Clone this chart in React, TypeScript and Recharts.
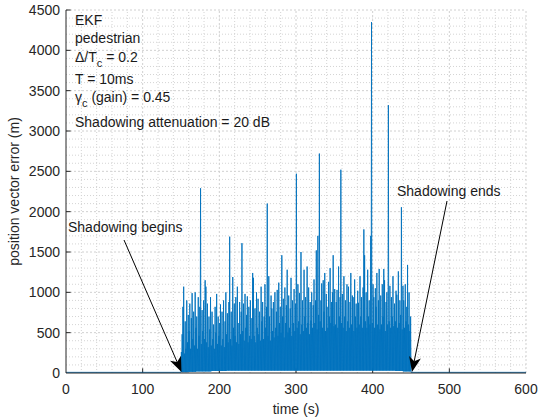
import React from 'react';
import { LineChart, Line, XAxis, YAxis, ReferenceLine } from 'recharts';

// per-second peak values of position vector error (m), t = 150.5 ... 449.5 s
const peaks: number[] = [
  260, 480, 820, 1070, 240, 640, 300, 900, 380, 720,
  520, 860, 300, 680, 990, 420, 760, 340, 1000, 560,
  700, 300, 940, 460, 820, 2290, 360, 780, 520, 900,
  420, 1150, 1070, 380, 860, 320, 700, 540, 940, 340,
  760, 420, 600, 300, 820, 500, 980, 360, 700, 460,
  620, 850, 340, 760, 420, 900, 320, 640, 1000, 480,
  740, 380, 880, 1690, 420, 760, 340, 1190, 560, 860,
  460, 940, 380, 1070, 620, 360, 880, 480, 760, 1610,
  520, 860, 400, 980, 560, 720, 950, 380, 820, 460,
  900, 420, 680, 1240, 1180, 460, 800, 380, 1000, 560,
  920, 480, 760, 400, 1070, 640, 880, 420, 700, 1100,
  560, 820, 2100, 460, 1200, 700, 400, 960, 800, 520,
  880, 440, 1000, 560, 760, 1030, 460, 1120, 620, 820,
  500, 1460, 700, 920, 440, 1060, 620, 840, 1280, 500,
  960, 560, 800, 1180, 460, 900, 620, 1040, 520, 860,
  2470, 560, 1100, 640, 990, 480, 1500, 600, 900, 520,
  1280, 700, 940, 560, 1320, 620, 1060, 480, 880, 650,
  1000, 560, 840, 1160, 620, 900, 1520, 540, 1700, 720,
  2720, 640, 900, 1110, 560, 1150, 760, 1240, 520, 980,
  820, 560, 1130, 700, 1300, 620, 880, 1000, 1460, 580,
  1040, 600, 880, 1030, 560, 1320, 700, 940, 2520, 620,
  980, 560, 1200, 700, 900, 520, 1100, 640, 1070, 560,
  880, 1240, 600, 960, 940, 520, 1160, 700, 860, 560,
  1020, 870, 600, 1200, 700, 940, 560, 1060, 1780, 1460,
  640, 1000, 560, 1280, 700, 900, 600, 1700, 4350, 620,
  1100, 940, 560, 1050, 820, 1240, 600, 900, 1290, 540,
  960, 600, 1100, 700, 1290, 1150, 520, 880, 1000, 600,
  3320, 640, 1080, 560, 940, 700, 1200, 580, 860, 640,
  1020, 970, 560, 1260, 620, 900, 720, 2055, 540, 1080,
  900, 560, 1100, 640, 820, 1340, 600, 1000, 520, 700,
];

// trough level per 10 s block during shadowing (m)
const troughs: number[] = [
  10, 15, 20, 20, 25, 25, 30, 30, 30, 30,
  30, 30, 30, 30, 30, 30, 30, 30, 30, 30,
  30, 30, 30, 30, 30, 30, 30, 30, 25, 20,
];

const shadowStart = 150;
const shadowEnd = 450;
const quietLevel = 8;

const xTicks = [0, 100, 200, 300, 400, 500, 600];
const yTicks = [0, 500, 1000, 1500, 2000, 2500, 3000, 3500, 4000, 4500];
const xMinor = [20, 40, 60, 80, 120, 140, 160, 180, 220, 240, 260, 280, 320, 340, 360, 380, 420, 440, 460, 480, 520, 540, 560, 580];
const yMinor: number[] = [];
for (let v = 100; v < 4500; v += 100) if (v % 500 !== 0) yMinor.push(v);

const data: { t: number; v: number }[] = [{ t: 0, v: quietLevel }, { t: shadowStart - 0.5, v: quietLevel }];
peaks.forEach((p, i) => {
  data.push({ t: shadowStart + i, v: troughs[Math.floor(i / 10)] });
  data.push({ t: shadowStart + i + 0.5, v: p });
});
data.push({ t: shadowEnd, v: quietLevel });
data.push({ t: 600, v: quietLevel });

const FONT = '"Liberation Sans", Arial, Helvetica, sans-serif';
const AX = '#262626';

// plot area in px
const PL = 66, PR = 526, PT = 10, PB = 373;

function arrow(x1: number, y1: number, x2: number, y2: number) {
  const dx = x2 - x1, dy = y2 - y1;
  const len = Math.sqrt(dx * dx + dy * dy);
  const ux = dx / len, uy = dy / len;
  const nx = -uy, ny = ux;
  const L = 15, W = 6, N = 11;
  const bx = x2 - L * ux, by = y2 - L * uy;
  const pts = [
    [x2, y2],
    [bx + W * nx, by + W * ny],
    [x2 - N * ux, y2 - N * uy],
    [bx - W * nx, by - W * ny],
  ].map((p) => p.join(',')).join(' ');
  return (
    <g>
      <line x1={x1} y1={y1} x2={x2 - N * ux} y2={y2 - N * uy} stroke="#000" strokeWidth={1} />
      <polygon points={pts} fill="#000" />
    </g>
  );
}

export default function App() {
  return (
    <div style={{ position: 'absolute', left: 0, top: 0, width: 540, height: 420, background: '#fff' }}>
      <LineChart width={540} height={420} data={data} margin={{ top: PT, right: 540 - PR, bottom: 0, left: 0 }}>
        {xMinor.map((x) => (
          <ReferenceLine key={'xm' + x} x={x} stroke="#d4d4d4" strokeDasharray="1 2" />
        ))}
        {yMinor.map((y) => (
          <ReferenceLine key={'ym' + y} y={y} stroke="#d4d4d4" strokeDasharray="1 2" />
        ))}
        {xTicks.slice(1).map((x) => (
          <ReferenceLine key={'xM' + x} x={x} stroke="#d0d0d0" strokeDasharray="2 2" />
        ))}
        {yTicks.slice(1).map((y) => (
          <ReferenceLine key={'yM' + y} y={y} stroke="#d0d0d0" strokeDasharray="2 2" />
        ))}
        <XAxis
          dataKey="t"
          type="number"
          domain={[0, 600]}
          ticks={xTicks}
          allowDataOverflow
          height={420 - PB}
          tickLine={false}
          tickSize={0}
          tickMargin={11}
          axisLine={{ stroke: AX }}
          tick={{ fill: AX, fontSize: 14, fontFamily: FONT }}
          interval={0}
        />
        <YAxis
          type="number"
          domain={[0, 4500]}
          ticks={yTicks}
          allowDataOverflow
          width={PL}
          tickLine={false}
          tickSize={0}
          tickMargin={6}
          axisLine={{ stroke: AX }}
          tick={{ fill: AX, fontSize: 14, fontFamily: FONT }}
          interval={0}
        />
        {xTicks.slice(1, -1).map((x) => (
          <ReferenceLine key={'xt' + x} segment={[{ x, y: 0 }, { x, y: 57 }]} stroke={AX} />
        ))}
        {yTicks.slice(1).map((y) => (
          <ReferenceLine key={'yt' + y} segment={[{ x: 0, y }, { x: 6, y }]} stroke={AX} />
        ))}
        <Line
          dataKey="v"
          type="linear"
          stroke="#0072BD"
          strokeWidth={0.9}
          dot={false}
          activeDot={false}
          isAnimationActive={false}
        />
      </LineChart>
      <svg
        width={540}
        height={420}
        style={{ position: 'absolute', left: 0, top: 0, pointerEvents: 'none' }}
        fontFamily={FONT}
      >
        <g fontSize={14} fill="#1a1a1a">
          <text x={75} y={25}>EKF</text>
          <text x={75} y={43}>pedestrian</text>
          <text x={75} y={61.5}>
            Δ/T<tspan dy={5} fontSize={11}>c</tspan>
            <tspan dy={-5}> = 0.2</tspan>
          </text>
          <text x={75} y={84}>T = 10ms</text>
          <text x={75} y={101.5}>
            γ<tspan dy={5} fontSize={11}>c</tspan>
            <tspan dy={-5}> (gain) = 0.45</tspan>
          </text>
          <text x={75} y={127}>Shadowing attenuation = 20 dB</text>
          <text x={68} y={232}>Shadowing begins</text>
          <text x={397} y={196}>Shadowing ends</text>
        </g>
        {arrow(124, 240, 181.5, 372)}
        {arrow(447, 201, 412, 372)}
        <text x={(PL + PR) / 2} y={414} fontSize={14} fill={AX} textAnchor="middle">time (s)</text>
        <text
          x={19}
          y={(PT + PB) / 2}
          fontSize={14}
          fill={AX}
          textAnchor="middle"
          transform={`rotate(-90 19 ${(PT + PB) / 2})`}
        >
          position vector error (m)
        </text>
      </svg>
    </div>
  );
}
